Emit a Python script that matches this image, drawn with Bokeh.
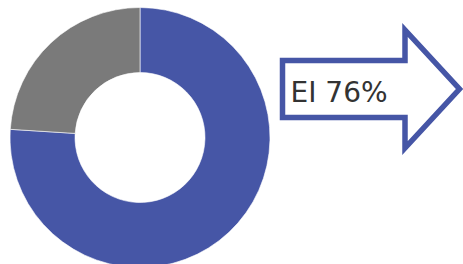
import numpy as np
from bokeh.plotting import figure
from bokeh.models import Range1d, ColumnDataSource
from bokeh.core.properties import value
from bokeh.embed import file_html
from bokeh.resources import INLINE

# data
labels = ["EI", "Other"]
shares = [76, 24]
colors = ["#4656A6", "#7A7A7A"]
callout_label = "EI"
callout_value = 76

W, H = 463, 264
p = figure(width=W, height=H, output_backend="svg", toolbar_location=None,
           x_range=Range1d(0, W), y_range=Range1d(0, H),
           min_border=0)
p.axis.visible = False
p.grid.visible = False
p.outline_line_color = None
p.background_fill_color = "white"

def Y(py):
    return 264 - py

# donut, clockwise from 12 o'clock
total = float(sum(shares))
fr = np.array(shares) / total
cum = np.concatenate([[0], np.cumsum(fr)])
starts, ends = [], []
for i in range(len(shares)):
    a0 = np.pi / 2 - 2 * np.pi * cum[i + 1]
    a1 = np.pi / 2 - 2 * np.pi * cum[i]
    starts.append(a0)
    ends.append(a1)
src = ColumnDataSource(dict(start=starts, end=ends, color=colors, label=labels))
cx, cy = 139.5, Y(137)
p.annular_wedge(x=cx, y=cy, inner_radius=65, outer_radius=130,
                start_angle="start", end_angle="end", fill_color="color",
                line_color="white", line_alpha=0.6, line_width=1, source=src)

# arrow callout
ax = [282, 404.5, 404.5, 459, 404.5, 404.5, 282]
ay = [60, 60, 29.5, 88.5, 147.5, 117, 117]
p.patch(x=ax, y=[Y(v) for v in ay], fill_color="white",
        line_color="#4656A6", line_width=5.5, line_join="miter")

p.text(x=[290], y=[Y(92)], text=[f"{callout_label} {callout_value}%"],
       text_font=value("DejaVu Sans"), text_font_size="28px",
       text_color="#333333", text_baseline="middle", text_align="left")

open("out.html", "w").write(file_html(p, INLINE))
